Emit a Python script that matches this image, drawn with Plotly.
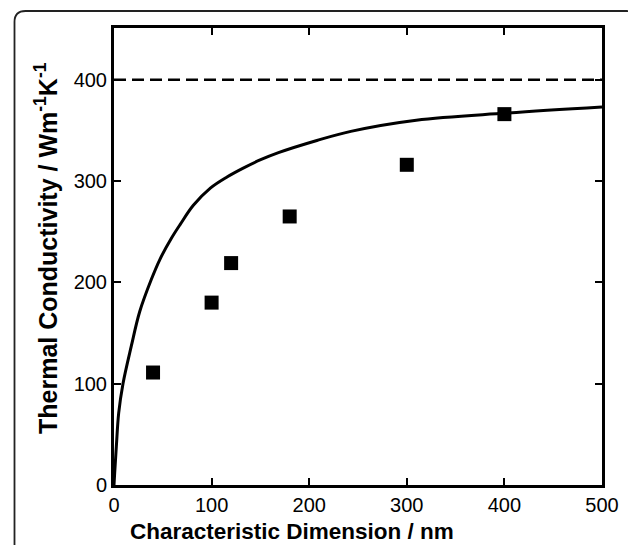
import plotly.graph_objects as go

# ---- data ----
meas_d = [40, 100, 120, 180, 300, 400]          # nm
meas_k = [111, 180, 219, 265, 316, 366]         # W m^-1 K^-1

model_d = [0, 0.7, 2.4, 4.8, 9.2, 17.7, 26.3, 38.3, 47.2, 59.1, 67.7, 81.3,
           98.7, 115.8, 132.9, 150.3, 168.5, 207.9, 242.6, 309.7, 402, 500]
model_k = [0, 12, 38, 71, 100, 137, 171, 203, 223, 244, 257, 276,
           293, 304, 313, 321, 328, 340, 349, 360, 367, 373]

bulk_d = [0, 500]
bulk_k = [400, 400]

x_ticks = [0, 100, 200, 300, 400, 500]
y_ticks = [0, 100, 200, 300, 400]

# ---- layout geometry (pixels, page has an 8px body margin) ----
OFF = 8
W, H = 636 - OFF, 545 - OFF
ML, MT = 114 - OFF, 28 - OFF
PW, PH = 488, 457
MR, MB = W - ML - PW, H - MT - PH


def px(x):
    """reference-image x pixel -> paper coordinate"""
    return (x - OFF - ML) / PW


def py(y):
    """reference-image y pixel -> paper coordinate"""
    return (MT + PH - (y - OFF)) / PH


FONT = "Liberation Sans, Arial, Helvetica, sans-serif"

fig = go.Figure()

fig.add_trace(go.Scatter(x=bulk_d, y=bulk_k, mode="lines",
                         line=dict(color="black", width=2.5, dash="12px,6px"),
                         showlegend=False, hoverinfo="skip"))
fig.add_trace(go.Scatter(x=model_d, y=model_k, mode="lines",
                         line=dict(color="black", width=3, shape="spline", smoothing=1.0),
                         showlegend=False))
fig.add_trace(go.Scatter(x=meas_d, y=meas_k, mode="markers",
                         marker=dict(symbol="square", size=14, color="black"),
                         showlegend=False))

axis_common = dict(showgrid=False, zeroline=False, showline=True, linecolor="black",
                   linewidth=3, mirror="ticks", ticks="inside", ticklen=7, tickwidth=2,
                   tickcolor="black",
                   tickfont=dict(family=FONT, size=20, color="black"))

fig.update_xaxes(range=[0, 500], tickvals=x_ticks, **axis_common)
fig.update_yaxes(range=[0, 451], tickvals=y_ticks, **axis_common)

# outer rounded frame
L, T, R, B, r = 14.5, 11, 637.5, 570, 11
path = (f"M {px(L)},{py(B)} L {px(L)},{py(T + r)} "
        f"Q {px(L)},{py(T)} {px(L + r)},{py(T)} "
        f"L {px(R - r)},{py(T)} Q {px(R)},{py(T)} {px(R)},{py(T + r)} "
        f"L {px(R)},{py(B)}")
fig.add_shape(type="path", path=path, xref="paper", yref="paper",
              line=dict(color="#222222", width=1.8), layer="below")

fig.add_annotation(text="<b>Characteristic Dimension / nm</b>", xref="paper", yref="paper",
                   x=px(292), y=py(531), xanchor="center", yanchor="middle",
                   showarrow=False,
                   font=dict(family=FONT, size=22.5, color="black"))
fig.add_annotation(text="<b>Thermal Conductivity / Wm<sup>-1</sup>K<sup>-1</sup></b>",
                   xref="paper", yref="paper", x=px(46), y=py(248), textangle=-90,
                   xanchor="center", yanchor="middle", showarrow=False,
                   font=dict(family=FONT, size=25, color="black"))

fig.update_layout(width=W, height=H, margin=dict(l=ML, r=MR, t=MT, b=MB),
                  paper_bgcolor="white", plot_bgcolor="white")

fig.write_html("out.html")
